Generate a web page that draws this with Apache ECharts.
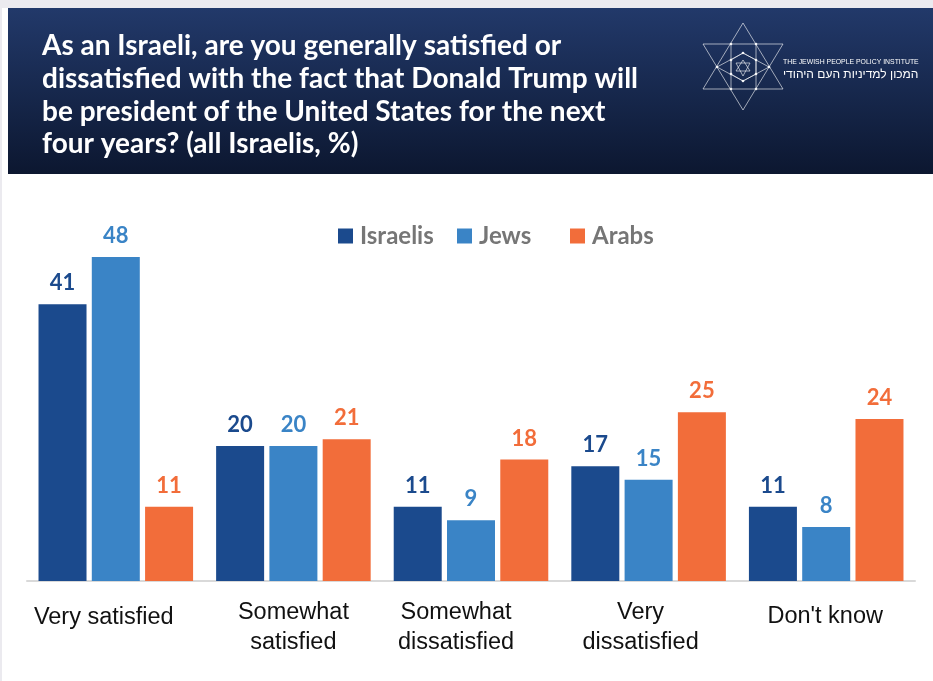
<!DOCTYPE html>
<html>
<head>
<meta charset="utf-8">
<title>Satisfaction with Trump presidency</title>
<script src="https://cdn.jsdelivr.net/npm/echarts@6/dist/echarts.min.js"></script>
<style>
  html, body { margin: 0; padding: 0; background: #ffffff; }
  #chart { width: 933px; height: 681px; }
</style>
</head>
<body>
<div id="chart"></div>
<script>
// Survey answers and shares per group (%)
const categories = ['Very satisfied', 'Somewhat\nsatisfied', 'Somewhat\ndissatisfied', 'Very\ndissatisfied', "Don't know"];
const seriesNames = ['Israelis', 'Jews', 'Arabs'];
const israelis = [41, 20, 11, 17, 11];
const jews = [48, 20, 9, 15, 8];
const arabs = [11, 21, 18, 25, 24];

const titleLines = [
  'As an Israeli, are you generally satisfied or',
  'dissatisfied with the fact that Donald Trump will',
  'be president of the United States for the next',
  'four years? (all Israelis, %)'
];

const colors = ['#1b4a8d', '#3a84c6', '#f26d3a'];

// per-label horizontal nudge (px, positive = left) for the category captions
const labelShift = [24, 0, 30, 16, 2];

const chart = echarts.init(document.getElementById('chart'), null, { renderer: 'canvas' });

// Logo geometry: star of David with nested figures
const cx = 743;
const logo = [];
const lineStyle = { stroke: 'rgba(255,255,255,0.75)', lineWidth: 0.8, fill: null };
logo.push({ type: 'polygon', shape: { points: [[cx, 23], [cx - 40, 89], [cx + 40, 89]] }, style: lineStyle });
logo.push({ type: 'polygon', shape: { points: [[cx, 110], [cx - 40, 44], [cx + 40, 44]] }, style: lineStyle });
logo.push({ type: 'polyline', shape: { points: [[cx - 12, 44], [cx - 12, 89]] }, style: lineStyle });
logo.push({ type: 'polyline', shape: { points: [[cx + 13, 44], [cx + 13, 89]] }, style: lineStyle });
logo.push({ type: 'polygon', shape: { points: [[cx, 53], [cx + 13, 60], [cx + 13, 74], [cx, 81], [cx - 12, 74], [cx - 12, 60]] }, style: lineStyle });
logo.push({ type: 'polygon', shape: { points: [[cx, 53], [cx - 26, 67], [cx, 81], [cx + 26, 67]] }, style: lineStyle });
logo.push({ type: 'polygon', shape: { points: [[cx, 60], [cx - 7, 71], [cx + 7, 71]] }, style: lineStyle });
logo.push({ type: 'polygon', shape: { points: [[cx, 76], [cx - 7, 63], [cx + 7, 63]] }, style: lineStyle });
[[cx, 53], [cx, 81], [cx - 12, 44], [cx + 13, 44], [cx - 12, 89], [cx + 13, 89], [cx - 26, 67], [cx + 26, 67], [cx - 12, 60], [cx + 13, 60], [cx - 12, 74], [cx + 13, 74]]
  .forEach(p => logo.push({ type: 'circle', shape: { cx: p[0], cy: p[1], r: 1.3 }, style: { fill: 'rgba(255,255,255,0.9)' } }));

const graphics = [
  // page frame
  { type: 'rect', shape: { x: 0, y: 0, width: 933, height: 8 }, style: { fill: '#ebeaef' }, silent: true },
  { type: 'rect', shape: { x: 0, y: 0, width: 2, height: 681 }, style: { fill: '#ebeaef' }, silent: true },
  // header banner
  {
    type: 'rect', shape: { x: 8, y: 8, width: 925, height: 166 }, silent: true,
    style: {
      fill: new echarts.graphic.LinearGradient(0, 0, 0, 1, [
        { offset: 0, color: '#22396a' },
        { offset: 1, color: '#0c1730' }
      ])
    }
  },
  {
    type: 'text', x: 42, y: 30, silent: true,
    style: {
      text: titleLines.join('\n'),
      fill: '#ffffff',
      font: 'bold 28px Lato, "Open Sans", sans-serif',
      lineHeight: 32.6
    }
  },
  {
    type: 'text', x: 783, y: 58, scaleX: 0.86, silent: true,
    style: { text: 'THE JEWISH PEOPLE POLICY INSTITUTE', fill: '#ffffff', font: '8px "Liberation Sans", sans-serif' }
  },
  {
    type: 'text', x: 783, y: 69, silent: true,
    style: { text: 'המכון למדיניות העם היהודי', fill: '#ffffff', font: '12px "Liberation Sans", "DejaVu Sans", sans-serif' }
  }
].concat(logo);

function barSeries(name, data, color) {
  return {
    name: name,
    type: 'bar',
    data: data,
    barWidth: 48,
    barGap: '11%',
    itemStyle: { color: color },
    label: {
      show: true,
      position: 'top',
      distance: 10,
      color: color,
      fontFamily: 'Lato, "Open Sans", sans-serif',
      fontWeight: 'bold',
      fontSize: 22
    }
  };
}

function legendItem(name, left) {
  return {
    data: [name],
    left: left,
    top: 219,
    itemWidth: 15,
    itemHeight: 15,
    icon: 'rect',
    textStyle: {
      color: '#767676',
      fontFamily: 'Lato, "Open Sans", sans-serif',
      fontWeight: 'bold',
      fontSize: 24,
      padding: [0, 0, 0, 2]
    }
  };
}

const captionFont = '"Liberation Sans", Arial, sans-serif';
const captionRich = {};
labelShift.forEach((s, i) => {
  captionRich['c' + i] = {
    color: '#111111',
    fontFamily: captionFont,
    fontSize: 23.5,
    lineHeight: 30,
    padding: [categories[i].indexOf('\n') >= 0 ? 0 : (i === 4 ? 7 : 10), s, 0, 0]
  };
});

chart.setOption({
  animation: false,
  backgroundColor: '#ffffff',
  color: colors,
  graphic: graphics,
  legend: [
    legendItem(seriesNames[0], 333),
    legendItem(seriesNames[1], 452),
    legendItem(seriesNames[2], 565)
  ],
  grid: { left: 27, right: 18, top: 243.5, bottom: 100, containLabel: false },
  xAxis: {
    type: 'category',
    data: categories,
    axisTick: { show: false },
    axisLine: { lineStyle: { color: '#d9d9d9', width: 2 } },
    axisLabel: {
      color: '#111111',
      fontFamily: captionFont,
      fontSize: 23.5,
      lineHeight: 30,
      margin: 17,
      interval: 0,
      formatter: (v, i) => v.split('\n').map(line => '{c' + i + '|' + line + '}').join('\n'),
      rich: captionRich
    }
  },
  yAxis: {
    type: 'value',
    min: 0,
    max: 50,
    show: false,
    splitLine: { show: false }
  },
  series: [
    barSeries(seriesNames[0], israelis, colors[0]),
    barSeries(seriesNames[1], jews, colors[1]),
    barSeries(seriesNames[2], arabs, colors[2])
  ]
});
</script>
</body>
</html>
